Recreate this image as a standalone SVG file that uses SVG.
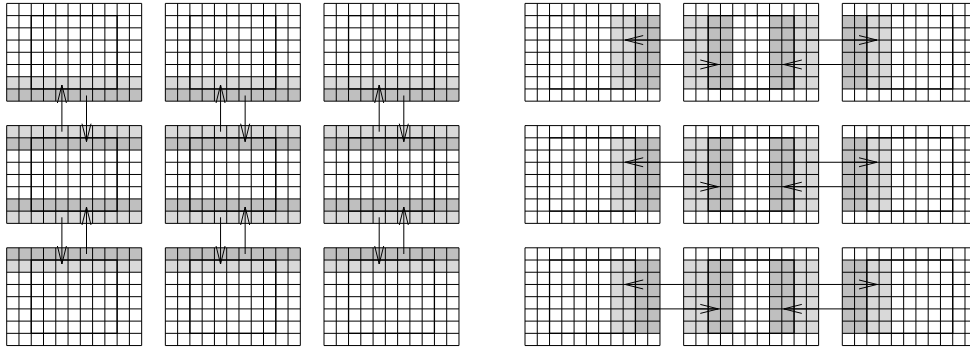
<svg xmlns="http://www.w3.org/2000/svg" xmlns:xlink="http://www.w3.org/1999/xlink" width="970" height="349" viewBox="0 0 970 349">
<style>
.g{fill:none;stroke:#000;stroke-width:1}
.in{fill:none;stroke:#000;stroke-width:1.25}
.lt{fill:#d9d9d9}
.dk{fill:#bfbfbf}
.ar{fill:none;stroke:#000;stroke-width:1;marker-end:url(#ah)}
</style>
<defs>
<marker id="ah" markerUnits="userSpaceOnUse" markerWidth="24" markerHeight="14" viewBox="-20 -7 22 14" refX="0" refY="0" orient="auto" overflow="visible">
<path d="M-18,-4.5L0,0L-18,4.5" fill="none" stroke="#000" stroke-width="1"/>
</marker>
<path id="grid" class="g" d="M0 0V97.76M12.27 0V97.76M24.54 0V97.76M36.81 0V97.76M49.08 0V97.76M61.35 0V97.76M73.62 0V97.76M85.89 0V97.76M98.16 0V97.76M110.43 0V97.76M122.7 0V97.76M134.97 0V97.76M0 0H134.97M0 12.22H134.97M0 24.44H134.97M0 36.66H134.97M0 48.88H134.97M0 61.1H134.97M0 73.32H134.97M0 85.54H134.97M0 97.76H134.97"/>
<rect id="inner" class="in" x="24.54" y="12.22" width="85.89" height="73.32"/>
</defs>
<rect width="970" height="349" fill="#fff"/>

<!-- Left: row decomposition -->
<g id="L-r0-c0" transform="translate(6.7,3.4)">
<rect class="lt" x="0" y="73.32" width="134.97" height="12.22"/><rect class="dk" x="0" y="85.54" width="134.97" height="12.22"/>
<use href="#grid"/><use href="#inner"/></g>
<g id="L-r0-c1" transform="translate(165.35,3.4)">
<rect class="lt" x="0" y="73.32" width="134.97" height="12.22"/><rect class="dk" x="0" y="85.54" width="134.97" height="12.22"/>
<use href="#grid"/><use href="#inner"/></g>
<g id="L-r0-c2" transform="translate(324,3.4)">
<rect class="lt" x="0" y="73.32" width="134.97" height="12.22"/><rect class="dk" x="0" y="85.54" width="134.97" height="12.22"/>
<use href="#grid"/><use href="#inner"/></g>

<g id="L-r1-c0" transform="translate(6.7,125.6)">
<rect class="lt" x="0" y="0" width="134.97" height="12.22"/><rect class="dk" x="0" y="12.22" width="134.97" height="12.22"/>
<rect class="dk" x="0" y="73.32" width="134.97" height="12.22"/><rect class="lt" x="0" y="85.54" width="134.97" height="12.22"/>
<use href="#grid"/><use href="#inner"/></g>
<g id="L-r1-c1" transform="translate(165.35,125.6)">
<rect class="lt" x="0" y="0" width="134.97" height="12.22"/><rect class="dk" x="0" y="12.22" width="134.97" height="12.22"/>
<rect class="dk" x="0" y="73.32" width="134.97" height="12.22"/><rect class="lt" x="0" y="85.54" width="134.97" height="12.22"/>
<use href="#grid"/><use href="#inner"/></g>
<g id="L-r1-c2" transform="translate(324,125.6)">
<rect class="lt" x="0" y="0" width="134.97" height="12.22"/><rect class="dk" x="0" y="12.22" width="134.97" height="12.22"/>
<rect class="dk" x="0" y="73.32" width="134.97" height="12.22"/><rect class="lt" x="0" y="85.54" width="134.97" height="12.22"/>
<use href="#grid"/><use href="#inner"/></g>

<g id="L-r2-c0" transform="translate(6.7,247.8)">
<rect class="dk" x="0" y="0" width="134.97" height="12.22"/><rect class="lt" x="0" y="12.22" width="134.97" height="12.22"/>
<use href="#grid"/><use href="#inner"/></g>
<g id="L-r2-c1" transform="translate(165.35,247.8)">
<rect class="dk" x="0" y="0" width="134.97" height="12.22"/><rect class="lt" x="0" y="12.22" width="134.97" height="12.22"/>
<use href="#grid"/><use href="#inner"/></g>
<g id="L-r2-c2" transform="translate(324,247.8)">
<rect class="dk" x="0" y="0" width="134.97" height="12.22"/><rect class="lt" x="0" y="12.22" width="134.97" height="12.22"/>
<use href="#grid"/><use href="#inner"/></g>

<!-- Right: column decomposition -->
<g id="R-r0-c0" transform="translate(525,3.4)">
<rect class="lt" x="85.89" y="12.22" width="24.54" height="73.32"/><rect class="dk" x="110.43" y="12.22" width="24.54" height="73.32"/>
<use href="#grid"/><use href="#inner"/></g>
<g id="R-r0-c1" transform="translate(683.65,3.4)">
<rect class="lt" x="0" y="12.22" width="24.54" height="73.32"/><rect class="dk" x="24.54" y="12.22" width="24.54" height="73.32"/>
<rect class="dk" x="85.89" y="12.22" width="24.54" height="73.32"/><rect class="lt" x="110.43" y="12.22" width="24.54" height="73.32"/>
<use href="#grid"/><use href="#inner"/></g>
<g id="R-r0-c2" transform="translate(842.3,3.4)">
<rect class="dk" x="0" y="12.22" width="24.54" height="73.32"/><rect class="lt" x="24.54" y="12.22" width="24.54" height="73.32"/>
<use href="#grid"/><use href="#inner"/></g>

<g id="R-r1-c0" transform="translate(525,125.6)">
<rect class="lt" x="85.89" y="12.22" width="24.54" height="73.32"/><rect class="dk" x="110.43" y="12.22" width="24.54" height="73.32"/>
<use href="#grid"/><use href="#inner"/></g>
<g id="R-r1-c1" transform="translate(683.65,125.6)">
<rect class="lt" x="0" y="12.22" width="24.54" height="73.32"/><rect class="dk" x="24.54" y="12.22" width="24.54" height="73.32"/>
<rect class="dk" x="85.89" y="12.22" width="24.54" height="73.32"/><rect class="lt" x="110.43" y="12.22" width="24.54" height="73.32"/>
<use href="#grid"/><use href="#inner"/></g>
<g id="R-r1-c2" transform="translate(842.3,125.6)">
<rect class="dk" x="0" y="12.22" width="24.54" height="73.32"/><rect class="lt" x="24.54" y="12.22" width="24.54" height="73.32"/>
<use href="#grid"/><use href="#inner"/></g>

<g id="R-r2-c0" transform="translate(525,247.8)">
<rect class="lt" x="85.89" y="12.22" width="24.54" height="73.32"/><rect class="dk" x="110.43" y="12.22" width="24.54" height="73.32"/>
<use href="#grid"/><use href="#inner"/></g>
<g id="R-r2-c1" transform="translate(683.65,247.8)">
<rect class="lt" x="0" y="12.22" width="24.54" height="73.32"/><rect class="dk" x="24.54" y="12.22" width="24.54" height="73.32"/>
<rect class="dk" x="85.89" y="12.22" width="24.54" height="73.32"/><rect class="lt" x="110.43" y="12.22" width="24.54" height="73.32"/>
<use href="#grid"/><use href="#inner"/></g>
<g id="R-r2-c2" transform="translate(842.3,247.8)">
<rect class="dk" x="0" y="12.22" width="24.54" height="73.32"/><rect class="lt" x="24.54" y="12.22" width="24.54" height="73.32"/>
<use href="#grid"/><use href="#inner"/></g>

<g id="connectors">
<path class="ar" d="M61.9 131.7V85"/>
<path class="ar" d="M86.5 95.5V141.7"/>
<path class="ar" d="M61.9 217.3V264"/>
<path class="ar" d="M86.5 254V207"/>
<path class="ar" d="M220.55 131.7V85"/>
<path class="ar" d="M245.15 95.5V141.7"/>
<path class="ar" d="M220.55 217.3V264"/>
<path class="ar" d="M245.15 254V207"/>
<path class="ar" d="M379.2 131.7V85"/>
<path class="ar" d="M403.8 95.5V141.7"/>
<path class="ar" d="M379.2 217.3V264"/>
<path class="ar" d="M403.8 254V207"/>
<path class="ar" d="M695.9 40.06H625.2"/>
<path class="ar" d="M647.7 64.5H718.3"/>
<path class="ar" d="M806.35 40.06H877"/>
<path class="ar" d="M854.6 64.5H783.8"/>
<path class="ar" d="M695.9 162.26H625.2"/>
<path class="ar" d="M647.7 186.7H718.3"/>
<path class="ar" d="M806.35 162.26H877"/>
<path class="ar" d="M854.6 186.7H783.8"/>
<path class="ar" d="M695.9 284.46H625.2"/>
<path class="ar" d="M647.7 308.9H718.3"/>
<path class="ar" d="M806.35 284.46H877"/>
<path class="ar" d="M854.6 308.9H783.8"/>
</g>
</svg>
